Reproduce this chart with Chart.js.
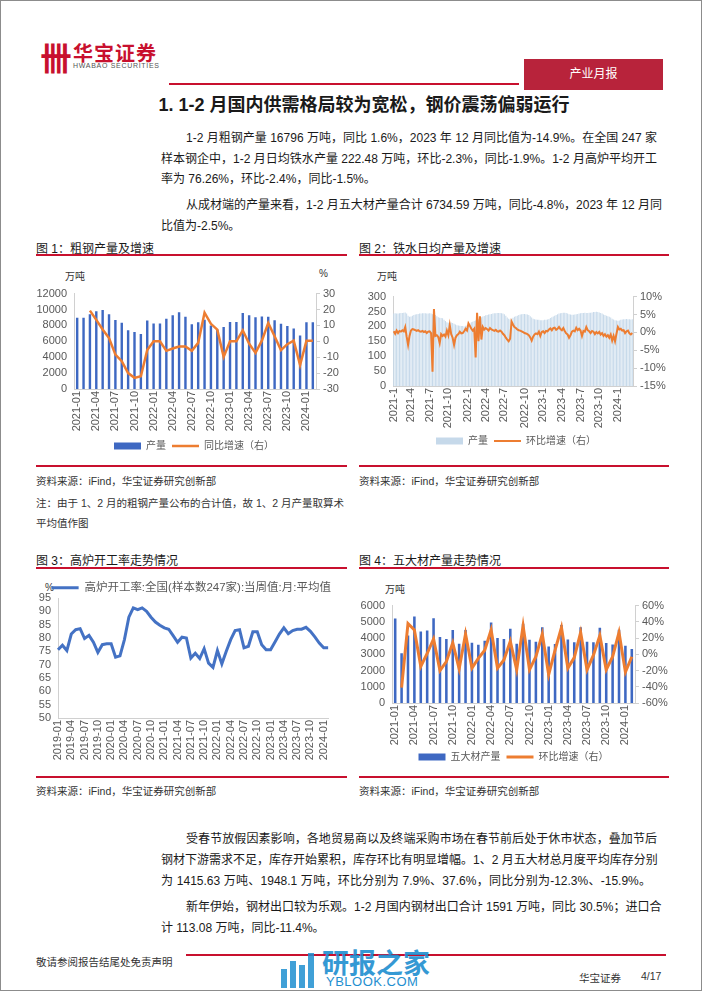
<!DOCTYPE html>
<html>
<head>
<meta charset="utf-8">
<script src="https://cdn.jsdelivr.net/npm/chart.js@4.4.1/dist/chart.umd.min.js"></script>
<style>
  body { margin: 0; background: #fff; }
  #page { position: relative; width: 700px; height: 989px; border: 1px solid #8c8c8c; overflow: hidden;
          font-family: "Liberation Sans", "Noto Sans CJK SC", sans-serif; color: #1a1a1a; }
  .t { position: absolute; white-space: nowrap; }
  .ln { position: absolute; white-space: nowrap; font-size: 12px; line-height: 14px; }
  .j { text-align: justify; text-align-last: justify; }
  .rule { position: absolute; background: #c8102e; height: 2px; }
  .cap { position: absolute; white-space: nowrap; font-size: 12px; }
  .src { position: absolute; white-space: nowrap; font-size: 10.5px; color: #333; }
  .unit { position: absolute; white-space: nowrap; font-size: 10px; color: #333; }
  .wm { position: absolute; background: #1f8fd0; opacity: 0.85; }
  canvas { position: absolute; }
</style>
</head>
<body>
<div id="page">
  <!-- header -->
  <div class="t" style="left:39px;top:32px;font-size:32px;font-weight:bold;color:#c8102e;">卌</div>
  <div class="t" style="left:72px;top:37px;font-size:20px;font-weight:bold;color:#c8102e;letter-spacing:1px;">华宝证券</div>
  <div class="t" style="left:72px;top:61px;font-size:7px;color:#555;letter-spacing:0.7px;">HWABAO SECURITIES</div>
  <div class="rule" style="left:168px;top:82px;width:350px;height:1.5px;"></div>
  <div class="t" style="left:523px;top:58px;width:139px;height:31px;background:#b8233b;color:#fff;font-size:12px;line-height:31px;text-align:center;">产业月报</div>
  <div class="t" style="left:0;top:89px;width:726px;text-align:center;font-size:18px;font-weight:bold;">1. 1-2 月国内供需格局较为宽松，钢价震荡偏弱运行</div>

  <!-- text block 1 -->
  <div class="ln j" style="left:185px;top:130px;width:471px;">1-2 月粗钢产量 16796 万吨，同比 1.6%，2023 年 12 月同比值为-14.9%。在全国 247 家</div>
  <div class="ln j" style="left:160px;top:151px;width:496px;">样本钢企中，1-2 月日均铁水产量 222.48 万吨，环比-2.3%，同比-1.9%。1-2 月高炉平均开工</div>
  <div class="ln" style="left:160px;top:171px;">率为 76.26%，环比-2.4%，同比-1.5%。</div>
  <div class="ln j" style="left:185px;top:197px;width:471px;">从成材端的产量来看，1-2 月五大材产量合计 6734.59 万吨，同比-4.8%，2023 年 12 月同</div>
  <div class="ln" style="left:160px;top:218px;">比值为-2.5%。</div>

  <!-- figure frames -->
  <div class="cap" style="left:35px;top:238px;">图 1：粗钢产量及增速</div>
  <div class="cap" style="left:358px;top:238px;">图 2：铁水日均产量及增速</div>
  <div class="rule" style="left:35px;top:253px;width:311px;"></div>
  <div class="rule" style="left:358px;top:253px;width:310px;"></div>
  <div class="rule" style="left:35px;top:464px;width:311px;"></div>
  <div class="rule" style="left:358px;top:464px;width:310px;"></div>
  <div class="unit" style="left:64px;top:267px;">万吨</div>
  <div class="unit" style="left:318px;top:267px;">%</div>
  <div class="unit" style="left:376px;top:267px;">万吨</div>
  <div class="src" style="left:35px;top:472px;">资料来源：iFind，华宝证券研究创新部</div>
  <div class="src" style="left:358px;top:472px;">资料来源：iFind，华宝证券研究创新部</div>
  <div class="src" style="left:35px;top:494px;">注：由于 1、2 月的粗钢产量公布的合计值，故 1、2 月产量取算术</div>
  <div class="src" style="left:35px;top:514px;">平均值作图</div>

  <div class="cap" style="left:35px;top:550px;">图 3：高炉开工率走势情况</div>
  <div class="cap" style="left:358px;top:550px;">图 4：五大材产量走势情况</div>
  <div class="rule" style="left:35px;top:566px;width:311px;"></div>
  <div class="rule" style="left:358px;top:566px;width:310px;"></div>
  <div class="rule" style="left:35px;top:775px;width:311px;"></div>
  <div class="rule" style="left:358px;top:775px;width:310px;"></div>
  <div class="unit" style="left:44px;top:581px;">%</div>
  <div class="unit" style="left:384px;top:580px;">万吨</div>
  <div class="src" style="left:35px;top:782px;">资料来源：iFind，华宝证券研究创新部</div>
  <div class="src" style="left:358px;top:782px;">资料来源：iFind，华宝证券研究创新部</div>

  <canvas id="c1" width="314" height="177" style="left:36px;top:283px;"></canvas>
  <canvas id="c2" width="310" height="169" style="left:360px;top:286px;"></canvas>
  <canvas id="c3" width="305" height="183" style="left:33px;top:579px;"></canvas>
  <canvas id="c4" width="315" height="176" style="left:355px;top:595px;"></canvas>

  <!-- text block 2 -->
  <div class="ln j" style="left:185px;top:831px;width:471px;">受春节放假因素影响，各地贸易商以及终端采购市场在春节前后处于休市状态，叠加节后</div>
  <div class="ln j" style="left:160px;top:852px;width:496px;">钢材下游需求不足，库存开始累积，库存环比有明显增幅。1、2 月五大材总月度平均库存分别</div>
  <div class="ln j" style="left:160px;top:873px;width:490px;">为 1415.63 万吨、1948.1 万吨，环比分别为 7.9%、37.6%，同比分别为-12.3%、-15.9%。</div>
  <div class="ln j" style="left:185px;top:899px;width:471px;">新年伊始，钢材出口较为乐观。1-2 月国内钢材出口合计 1591 万吨，同比 30.5%；进口合</div>
  <div class="ln" style="left:160px;top:920px;">计 113.08 万吨，同比-11.4%。</div>

  <!-- footer -->
  <div class="rule" style="left:185px;top:953px;width:480px;height:1.5px;"></div>
  <div class="src" style="left:35px;top:953px;">敬请参阅报告结尾处免责声明</div>
  <div class="wm" style="left:280px;top:968px;width:6px;height:19px;"></div>
  <div class="wm" style="left:289px;top:960px;width:6px;height:27px;"></div>
  <div class="wm" style="left:298px;top:964px;width:6px;height:23px;"></div>
  <div class="wm" style="left:307px;top:952px;width:6px;height:35px;"></div>
  <div class="t" style="left:321px;top:941px;font-size:27px;font-weight:bold;color:#1f8fd0;opacity:0.9;">研报之家</div>
  <div class="t" style="left:325px;top:973px;font-size:13px;color:#1f8fd0;letter-spacing:0.5px;">YBLOOK.COM</div>
  <div class="src" style="left:578px;top:969px;">华宝证券</div>
  <div class="src" style="left:640px;top:969px;">4/17</div>
</div>

<script>
// ---------- chart 1: crude steel output (万吨) & yoy (%) ----------
const months21 = [
  '2021-01','2021-02','2021-03','2021-04','2021-05','2021-06','2021-07','2021-08','2021-09','2021-10','2021-11','2021-12',
  '2022-01','2022-02','2022-03','2022-04','2022-05','2022-06','2022-07','2022-08','2022-09','2022-10','2022-11','2022-12',
  '2023-01','2023-02','2023-03','2023-04','2023-05','2023-06','2023-07','2023-08','2023-09','2023-10','2023-11','2023-12',
  '2024-01','2024-02'
];
const crudeOutput = [
  8950, 8950, 9400, 9785, 9945, 9390, 8679, 8324, 7375, 7158, 6933, 8619,
  8250, 8250, 8830, 9278, 9661, 9073, 8143, 8405, 8695, 7976, 7483, 7789,
  8435, 8435, 9573, 9264, 9012, 9111, 9080, 8641, 8210, 7909, 7610, 6744,
  8398, 8398
];
const crudeYoy = [
  null, null, 19.3, 13.5, 7.4, 2.0, -8.4, -12.5, -20.0, -23.0, -22.0, -5.5,
  0.0, 0.0, -6.0, -4.5, -3.3, -3.3, -6.0, -1.0, 18.0, 11.0, 7.3, -9.8,
  0.0, 0.0, 6.9, -1.5, -7.3, 0.4, 11.5, 3.2, -5.6, -1.8, 0.4, -14.9,
  0.3, 0.3
];

// ---------- chart 2: weekly hot metal output (万吨) & wow (%) ----------
const hotMetal = [
  // 2021
  243, 244, 243, 243,   244, 245, 245, 246,   247, 243, 236, 232, 233,   236, 238, 240, 241,
  242, 243, 243, 244, 244,   244, 243, 243, 244,   243, 241, 240, 238,   234, 231, 229, 228, 227,
  222, 218, 214, 212,   212, 213, 211, 209,   206, 204, 203, 202, 201,   201, 200, 202, 203,
  // 2022
  206, 210, 214, 216,   218, 220, 222, 224,   228, 231, 233, 235, 237,   238, 240, 241, 242,
  243, 244, 244, 245, 245,   245, 244, 243, 241,   236, 230, 226, 223,   226, 229, 232, 234, 236,
  238, 240, 241, 242,   242, 241, 240, 238,   234, 230, 226, 224, 223,   222, 222, 221, 221,
  // 2023
  221, 222, 222, 223,   225, 228, 231, 233,   236, 238, 241, 243, 244,   245, 246, 246, 245,
  243, 241, 240, 239, 239,   240, 241, 242, 243,   244, 245, 245, 246,   245, 245, 246, 246, 247,
  248, 248, 249, 248,   247, 245, 243, 240,   238, 236, 234, 232, 230,   226, 223, 221, 220,
  // 2024
  219, 220, 222, 223,   224, 224, 225, 224,   224, 223, 224
];
const hotMetalWow = [
  // 2021
  0.3, -0.4, 0.5, -0.2,   0.4, 0.2, 0.6, 0.3,   1.5, -1.2, -3.5, -1.0, 0.5,   0.9, 0.8, 0.6, 0.4,
  0.6, 0.3, 0.2, 0.4, 0.1,   0.3, -0.2, 0.2, 0.3,   -0.2, -11.0, 6.5, -1.0,   -0.8, -1.3, -3.0, -0.5, -1.0,
  -0.6, -1.2, 0.5, -0.8,   2.0, -0.5, -1.5, -3.5,   -1.5, -0.8, -0.5, 0.2, -0.3,   -0.2, 0.3, 1.0, 0.5,
  // 2022
  2.5, 1.8, 1.0, 0.5,   1.0, -7.0, 5.5, -2.5,   4.5, -2.0, 1.5, 0.8, 1.2,   0.9, 0.5, 1.2, 0.8,
  0.6, 0.4, 0.7, 0.3, 0.2,   0.5, 0.2, -0.4, -0.8,   -1.5, -2.0, -2.5, -1.8,   3.0, 2.2, 1.5, 1.2, 0.8,
  0.6, 0.5, 0.3, 0.1,   -0.2, -0.3, -0.5, -0.8,   -1.4, -2.3, -1.2, -0.6, -0.3,   -0.5, 0.2, -1.0, 0.1,
  // 2023
  0.3, -0.2, 0.4, 0.3,   0.8, 1.1, 0.6, 1.2,   1.3, 0.7, 1.0, 1.5, 0.9,   0.6, 1.2, 0.4, -0.3,
  -0.6, -1.5, -0.8, 0.2, 0.5,   0.3, 1.3, 0.6, 1.0,   0.5, -1.0, 0.4, 0.2,   1.5, 0.6, 0.3, -0.2, 0.4,
  0.2, -0.5, 0.1, -0.3,   0.1, -0.6, -0.2, -1.0,   -0.5, -1.2, -0.8, -1.5, -0.6,   -2.3, -1.0, -2.5, -0.4,
  // 2024
  1.5, 0.8, 1.0, 0.5,   0.6, -0.2, 0.3, 0.5,   -0.3, -0.6, -0.2
];
// weekly category labels (year-month of each Friday)
const weekLabels = [];
for (let i = 0; i < hotMetal.length; i++) {
  const d = new Date(Date.UTC(2021, 0, 8 + 7 * i));
  weekLabels.push(d.getUTCFullYear() + '-' + (d.getUTCMonth() + 1));
}

// ---------- chart 3: blast furnace utilisation (%) ----------
const months19 = [
  '2019-01','2019-02','2019-03','2019-04','2019-05','2019-06','2019-07','2019-08','2019-09','2019-10','2019-11','2019-12',
  '2020-01','2020-02','2020-03','2020-04','2020-05','2020-06','2020-07','2020-08','2020-09','2020-10','2020-11','2020-12',
  ...months21
];
const furnaceRate = [
  75.6, 77.3, 75.3, 81.5, 83.1, 83.5, 79.8, 81.0, 78.4, 74.6, 77.5, 77.8,
  77.8, 72.8, 73.3, 79.4, 87.8, 91.3, 90.6, 91.3, 90.0, 87.8, 86.0, 84.8,
  83.8, 83.3, 80.9, 78.4, 80.3, 80.0, 72.5, 74.3, 72.3, 76.0, 70.6, 69.0,
  75.3, 70.3, 75.0, 79.4, 82.8, 83.1, 76.3, 76.9, 82.3, 82.3, 77.5, 75.6,
  75.6, 78.5, 81.5, 83.8, 81.6, 82.8, 83.3, 83.3, 84.0, 82.5, 80.4, 78.1,
  76.3, 76.3
];

// ---------- chart 4: five major products output (万吨) & mom (%) ----------
const fiveOutput = [
  5200, 3070, 4160, 5330, 4400, 4470, 5220, 4060, 3950, 4500, 3650, 4500,
  3710, 3590, 3830, 4960, 4000, 3950, 4570, 3650, 4880, 3890, 3770, 4670,
  3480, 3630, 4800, 3910, 3750, 4670, 3770, 3750, 4630, 3690, 3610, 4510,
  3520, 3320
];
const fiveMom = [
  null, -41, 38, 30, -15, 1, 19, -20, -9, 14, -18, 25,
  -17, -5, 5, 30, -17, -7, 16, -19, 35, -19, -3, 25,
  -25, 5, 33, -17, -4, 27, -19, -1, 23, -19, -3, 27,
  -22, -3
];

const BLUE = '#3e68c2';
const ORANGE = '#ed7d31';
const AXIS = '#d0d0d0';
const TXT = '#595959';
const CJK = '"Liberation Sans", "Noto Sans CJK SC", sans-serif';
const NARROW = '"Liberation Sans Narrow", "Liberation Sans", sans-serif';

Chart.defaults.font.family = CJK;
Chart.defaults.color = TXT;
Chart.defaults.animation = false;

function legendOpts(position, size) {
  return {
    position: position,
    labels: {
      usePointStyle: true, pointStyleWidth: 27, boxHeight: 7, padding: 6,
      color: TXT, font: { size: size || 10, family: CJK }
    }
  };
}

function xAxis(labelFilter, h) {
  return {
    offset: true,
    grid: { display: false, drawTicks: false },
    border: { display: true, color: AXIS },
    ticks: {
      autoSkip: false, minRotation: 90, maxRotation: 90, padding: 2,
      font: { size: 11 },
      callback: function (v, i) { return labelFilter(i) ? this.getLabelForValue(v) : null; }
    },
    afterFit: s => { s.height = h; }
  };
}

function yAxis(pos, min, max, step, w, fmt, font) {
  return {
    position: pos, min: min, max: max,
    grid: { display: pos === 'right', drawOnChartArea: false, color: AXIS, tickLength: 4 },
    border: { display: true, color: AXIS },
    ticks: { stepSize: step, autoSkip: false, padding: 3, font: font || { size: 11 }, callback: fmt || (v => v) },
    afterFit: s => { s.width = w; }
  };
}

const every3 = i => i % 3 === 0;

new Chart(document.getElementById('c1'), {
  data: {
    labels: months21,
    datasets: [
      { type: 'line', label: '同比增速（右）', data: crudeYoy, yAxisID: 'y1', borderColor: ORANGE,
        backgroundColor: ORANGE, borderWidth: 2.5, pointRadius: 0, pointStyle: 'line', tension: 0 },
      { type: 'bar', label: '产量', data: crudeOutput, yAxisID: 'y', backgroundColor: BLUE,
        borderWidth: 0, barPercentage: 0.38, categoryPercentage: 1, pointStyle: 'rect' }
    ]
  },
  options: {
    responsive: false, devicePixelRatio: 1,
    plugins: {
      legend: Object.assign(legendOpts('bottom'), { reverse: true }),
      tooltip: { enabled: false }
    },
    scales: {
      x: xAxis(every3, 46),
      y: yAxis('left', 0, 12000, 2000, 37, null, { size: 11, family: NARROW }),
      y1: yAxis('right', -30, 30, 10, 35)
    }
  }
});

new Chart(document.getElementById('c2'), {
  data: {
    labels: weekLabels,
    datasets: [
      { type: 'line', label: '环比增速（右）', data: hotMetalWow, yAxisID: 'y1', borderColor: ORANGE,
        backgroundColor: ORANGE, borderWidth: 2, pointRadius: 0, pointStyle: 'line', tension: 0 },
      { type: 'bar', label: '产量', data: hotMetal, yAxisID: 'y', backgroundColor: '#c6d9ea',
        borderWidth: 0, barPercentage: 0.7, categoryPercentage: 1, pointStyle: 'rect' }
    ]
  },
  options: {
    responsive: false, devicePixelRatio: 1,
    plugins: {
      legend: Object.assign(legendOpts('bottom'), { reverse: true }),
      tooltip: { enabled: false }
    },
    scales: {
      x: xAxis(i => {
        const m = weekLabels[i].split('-')[1];
        return ['1', '4', '7', '10'].includes(m) && (i === 0 || weekLabels[i - 1] !== weekLabels[i]);
      }, 44),
      y: yAxis('left', 0, 300, 50, 32, null, { size: 11 }),
      y1: yAxis('right', -15, 10, 5, 38, v => v + '%')
    }
  }
});

const lg3 = legendOpts('top', 11.5);
lg3.align = 'end';
lg3.maxHeight = 18;
lg3.labels.padding = 2;
const x3 = xAxis(every3, 45);
x3.offset = false;
new Chart(document.getElementById('c3'), {
  type: 'line',
  data: {
    labels: months19,
    datasets: [
      { label: '高炉开工率:全国(样本数247家):当周值:月:平均值', data: furnaceRate, borderColor: '#4472c4',
        backgroundColor: '#4472c4', borderWidth: 3, pointRadius: 0, pointStyle: 'line', tension: 0 }
    ]
  },
  options: {
    responsive: false, devicePixelRatio: 1,
    layout: { padding: { right: 6 } },
    plugins: {
      legend: lg3,
      tooltip: { enabled: false }
    },
    scales: {
      x: x3,
      y: yAxis('left', 50, 95, 5, 24, null, { size: 11 })
    }
  }
});

new Chart(document.getElementById('c4'), {
  data: {
    labels: months21,
    datasets: [
      { type: 'line', label: '环比增速（右）', data: fiveMom, yAxisID: 'y1', borderColor: ORANGE,
        backgroundColor: ORANGE, borderWidth: 3, pointRadius: 0, pointStyle: 'line', tension: 0 },
      { type: 'bar', label: '五大材产量', data: fiveOutput, yAxisID: 'y', backgroundColor: BLUE,
        borderWidth: 0, barPercentage: 0.4, categoryPercentage: 1, pointStyle: 'rect' }
    ]
  },
  options: {
    responsive: false, devicePixelRatio: 1,
    plugins: {
      legend: Object.assign(legendOpts('bottom'), { reverse: true }),
      tooltip: { enabled: false }
    },
    scales: {
      x: xAxis(every3, 43),
      y: yAxis('left', 0, 6000, 1000, 36, null, { size: 11, family: NARROW }),
      y1: yAxis('right', -60, 60, 20, 36, v => v + '%')
    }
  }
});
</script>
</body>
</html>
